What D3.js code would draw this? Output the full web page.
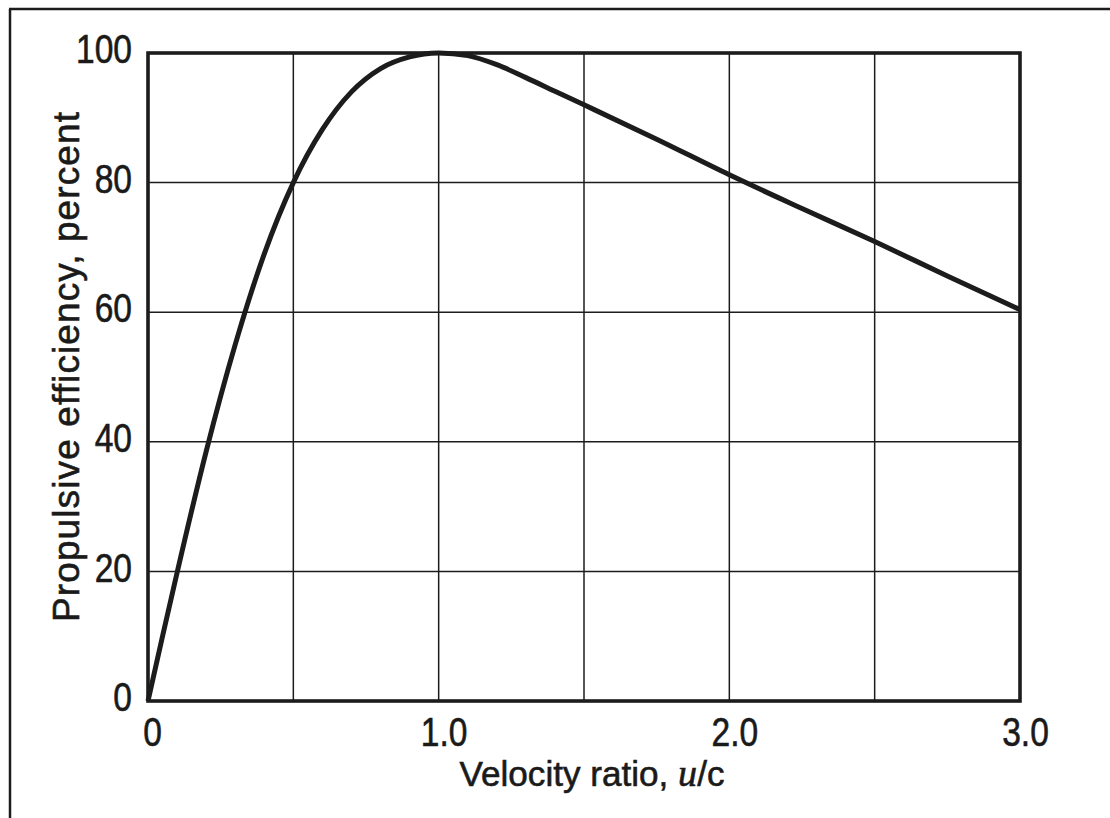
<!DOCTYPE html>
<html>
<head>
<meta charset="utf-8">
<script src="https://cdn.jsdelivr.net/npm/d3@7"></script>
<style>
  html, body { margin: 0; padding: 0; background: #fff; }
  svg { display: block; }
  text { font-family: "Liberation Sans", Arial, sans-serif; fill: #1a1a1a; stroke: #1a1a1a; stroke-width: 0.6px; }
</style>
</head>
<body>
<svg id="chart" width="1110" height="818"></svg>
<script>
// Propulsive efficiency against velocity ratio u/c
const ratio = [0, 0.05, 0.1, 0.2, 0.3, 0.4, 0.5, 0.6, 0.7, 0.8, 0.9, 1.0, 1.1, 1.2, 1.3, 1.4, 1.5, 1.75, 2.0, 2.25, 2.5, 2.75, 3.0];
const efficiency = [0, 10, 19.8, 38.5, 55, 69, 80, 88.2, 94, 97.6, 99.4, 100, 99.6, 98.2, 96.2, 94.1, 92, 86.7, 81.2, 76, 70.9, 65.6, 60.4];

const xTickValues = [0, 1, 2, 3];
const xTickLabels = ["0", "1.0", "2.0", "3.0"];
const xGridValues = [0, 0.5, 1, 1.5, 2, 2.5, 3];
const yTickValues = [0, 20, 40, 60, 80, 100];
const yTickLabels = ["0", "20", "40", "60", "80", "100"];

const svg = d3.select("#chart");
const ink = "#1c1c1c";
const squeeze = 0.84;   // narrow figure style for tick numerals

// outer border (top and left edges)
svg.append("line").attr("x1", 9).attr("y1", 9).attr("x2", 1110).attr("y2", 9)
  .attr("stroke", ink).attr("stroke-width", 2.5);
svg.append("line").attr("x1", 10).attr("y1", 9).attr("x2", 10).attr("y2", 818)
  .attr("stroke", ink).attr("stroke-width", 2.5);

const plot = { left: 148, right: 1020, top: 53, bottom: 701 };

const x = d3.scaleLinear().domain([0, 3]).range([plot.left, plot.right]);
const y = d3.scaleLinear().domain([0, 100]).range([plot.bottom, plot.top]);

// grid
svg.append("g").selectAll("line").data(xGridValues).join("line")
  .attr("x1", d => x(d)).attr("x2", d => x(d))
  .attr("y1", plot.top).attr("y2", plot.bottom)
  .attr("stroke", ink).attr("stroke-width", 1.5);
svg.append("g").selectAll("line").data(yTickValues).join("line")
  .attr("x1", plot.left).attr("x2", plot.right)
  .attr("y1", d => y(d)).attr("y2", d => y(d))
  .attr("stroke", ink).attr("stroke-width", 1.5);

// frame
svg.append("rect")
  .attr("x", plot.left).attr("y", plot.top)
  .attr("width", plot.right - plot.left).attr("height", plot.bottom - plot.top)
  .attr("fill", "none").attr("stroke", ink).attr("stroke-width", 3.6);

// tick labels via d3 axis generators, then restyled
const xAxis = d3.axisBottom(x).tickValues(xTickValues)
  .tickFormat((d, i) => xTickLabels[i]).tickSize(0).tickPadding(17);
const gx = svg.append("g").attr("transform", `translate(0,${plot.bottom})`).call(xAxis);
gx.select(".domain").remove();
gx.selectAll("text")
  .attr("font-family", "'Liberation Sans', Arial, sans-serif")
  .attr("font-size", 40).attr("fill", ink)
  .attr("x", (d, i) => (i === 0 ? 4 : 5) / squeeze)
  .attr("transform", `scale(${squeeze},1)`);

const yAxis = d3.axisLeft(y).tickValues(yTickValues)
  .tickFormat((d, i) => yTickLabels[i]).tickSize(0).tickPadding(16);
const gy = svg.append("g").attr("transform", `translate(${plot.left},0)`).call(yAxis);
gy.select(".domain").remove();
gy.selectAll("text")
  .attr("font-family", "'Liberation Sans', Arial, sans-serif")
  .attr("font-size", 40).attr("fill", ink)
  .attr("x", -16 / squeeze)
  .attr("dy", "0.24em")
  .attr("transform", `scale(${squeeze},1)`);

// curve
const line = d3.line()
  .x((d, i) => x(ratio[i]))
  .y(d => y(d))
  .curve(d3.curveMonotoneX);
svg.append("path").datum(efficiency)
  .attr("d", line)
  .attr("fill", "none").attr("stroke", ink).attr("stroke-width", 5)
  .attr("stroke-linejoin", "round");

// axis titles
const xt = svg.append("text")
  .attr("x", 592).attr("y", 786)
  .attr("text-anchor", "middle")
  .attr("font-size", 35)
  .attr("textLength", 265)
  .attr("lengthAdjust", "spacingAndGlyphs");
xt.append("tspan").text("Velocity ratio, ");
xt.append("tspan").attr("font-style", "italic").attr("font-family", "'Liberation Serif', serif").attr("font-size", 38).text("u");
xt.append("tspan").text("/c");

svg.append("text")
  .attr("transform", `translate(79,367) rotate(-90)`)
  .attr("text-anchor", "middle")
  .attr("font-size", 37)
  .attr("textLength", 510)
  .attr("lengthAdjust", "spacing")
  .text("Propulsive efficiency, percent");
</script>
</body>
</html>
